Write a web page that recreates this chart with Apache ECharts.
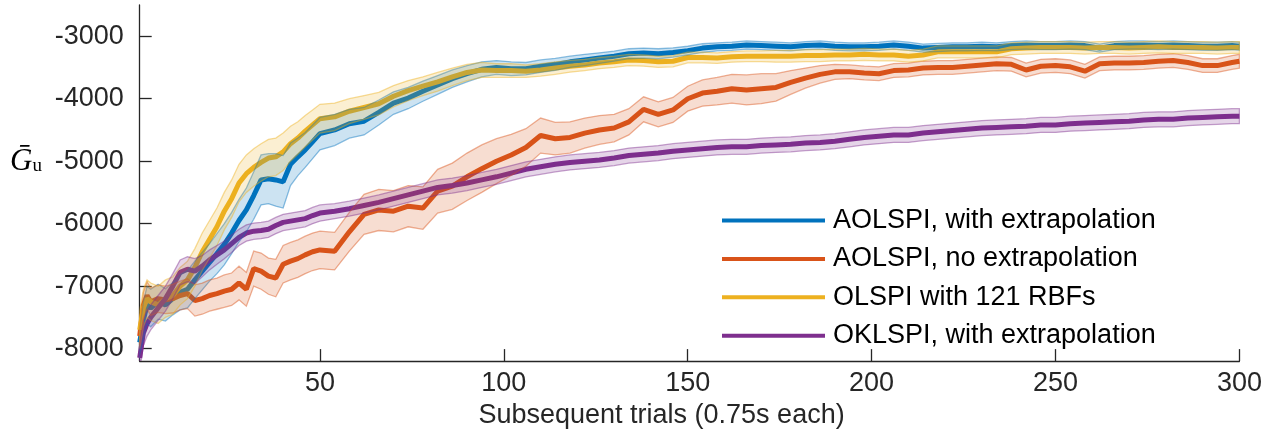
<!DOCTYPE html>
<html>
<head>
<meta charset="utf-8">
<script src="https://cdn.jsdelivr.net/npm/echarts@6/dist/echarts.min.js"></script>
<style>html,body{margin:0;padding:0;background:#fff}#main{width:1271px;height:434px}</style>
</head>
<body>
<div id="main"></div>
<script>
// trial index (x axis)
const trials = [1,2,3,4,6,8,10,12,14,16,18,20,22,24,26,28,30,32,34,36,38,40,42,44,46,48,50,
  54,58,62,66,70,74,78,82,86,90, 94,98,102,106,110,114,118,122,126,130,
  134,138,142,146,150,154,158,162,166,170, 174,178,182,186,190,194,198,202,206,210,
  214,218,222,226,230,234,238,242,246,250, 254,258,262,266,270,274,278,282,286,290, 294,298,300];

// AOLSPI, with extrapolation
const aolspiExt = [-7900,-7550,-7300,-7350,-7250,-7300,-7200,-7100,-7050,-6900,-6760,-6620,-6480,-6330,-6150,-5950,-5780,-5550,-5300,-5280,-5300,-5330,-5050,-4930,-4820,-4690,-4560,
  -4500,-4400,-4360,-4220,-4070,-3990,-3880,-3780,-3680,-3600, -3530,-3500,-3520,-3520,-3480,-3450,-3410,-3380,-3350,-3320,
  -3280,-3270,-3280,-3260,-3230,-3190,-3170,-3160,-3140,-3150, -3160,-3170,-3150,-3140,-3160,-3170,-3170,-3160,-3140,-3160,
  -3190,-3180,-3170,-3170,-3160,-3170,-3150,-3140,-3150,-3150, -3140,-3150,-3190,-3150,-3140,-3140,-3150,-3140,-3150,-3160, -3160,-3150,-3160];
const aolspiExtSd = [200,300,300,300,280,260,260,280,300,300,300,300,320,330,330,340,350,380,400,400,420,420,340,300,280,270,260,
  250,230,220,200,180,170,160,150,140,130, 120,110,110,100,100,95,90,90,85,80,
  80,80,80,75,70,70,65,65,65,65, 65,65,65,65,65,65,65,65,65,65,
  65,65,65,65,65,65,65,65,65,65, 65,65,65,65,65,65,65,65,65,65, 65,65,65];

// AOLSPI, no extrapolation
const aolspiNo = [-7800,-7300,-7150,-7250,-7200,-7220,-7200,-7150,-7120,-7230,-7200,-7150,-7120,-7080,-7050,-6950,-7050,-6720,-6760,-6840,-6870,-6650,-6600,-6560,-6500,-6450,-6420,
  -6440,-6130,-5850,-5780,-5800,-5720,-5750,-5480,-5400,-5250, -5120,-5000,-4900,-4780,-4590,-4640,-4620,-4550,-4500,-4470,
  -4370,-4170,-4250,-4180,-4000,-3910,-3880,-3840,-3860,-3840, -3820,-3740,-3670,-3610,-3570,-3570,-3590,-3600,-3550,-3540,
  -3510,-3500,-3500,-3480,-3460,-3440,-3450,-3540,-3480,-3470, -3490,-3560,-3440,-3430,-3430,-3420,-3400,-3390,-3420,-3470, -3470,-3420,-3400];
const aolspiNoSd = [150,200,220,220,220,220,230,230,240,250,250,250,250,260,260,270,270,280,290,290,300,300,300,300,300,300,300,
  300,310,320,330,330,330,340,350,370,380, 380,360,330,300,280,260,250,240,230,220,
  210,200,200,200,200,210,220,230,240,240, 220,190,160,140,120,110,110,110,110,110,
  110,110,110,110,110,110,110,110,110,110, 110,110,110,110,110,110,110,110,110,110, 110,110,110];

// OLSPI with 121 RBFs
const olspi = [-7700,-7350,-7200,-7250,-7300,-7200,-7150,-7000,-6900,-6700,-6450,-6250,-6050,-5800,-5600,-5350,-5200,-5100,-5020,-4950,-4930,-4850,-4720,-4630,-4520,-4420,-4320,
  -4290,-4200,-4140,-4080,-3960,-3870,-3800,-3730,-3650,-3580, -3540,-3550,-3550,-3560,-3540,-3510,-3480,-3460,-3430,-3410,
  -3380,-3390,-3410,-3400,-3340,-3340,-3350,-3330,-3320,-3320, -3320,-3320,-3310,-3310,-3300,-3300,-3290,-3300,-3300,-3320,
  -3300,-3250,-3250,-3250,-3250,-3250,-3200,-3190,-3180,-3180, -3180,-3190,-3180,-3180,-3190,-3180,-3170,-3180,-3180,-3180, -3190,-3180,-3180];
const olspiSd = [300,300,300,300,300,300,300,300,300,300,300,300,300,300,300,300,300,300,300,300,300,300,280,260,250,240,230,
  220,200,190,180,170,160,150,150,140,130, 120,110,110,100,100,100,95,90,90,90,
  90,90,90,90,85,85,85,85,85,85, 95,95,95,95,95,95,95,95,95,95,
  95,95,95,95,95,95,95,95,95,95, 95,95,95,95,95,95,95,95,95,95, 95,95,95];

// OKLSPI, with extrapolation
const oklspi = [-8150,-7750,-7600,-7500,-7350,-7200,-7000,-6780,-6730,-6760,-6680,-6580,-6500,-6420,-6320,-6220,-6150,-6120,-6110,-6090,-6030,-5980,-5960,-5940,-5920,-5870,-5830,
  -5800,-5760,-5710,-5660,-5600,-5540,-5480,-5420,-5390,-5350, -5300,-5250,-5190,-5130,-5090,-5050,-5020,-5000,-4980,-4950,
  -4910,-4890,-4870,-4840,-4820,-4800,-4780,-4770,-4770,-4750, -4740,-4730,-4710,-4700,-4680,-4650,-4620,-4600,-4580,-4580,
  -4550,-4530,-4510,-4490,-4470,-4460,-4450,-4440,-4420,-4420, -4400,-4390,-4380,-4370,-4360,-4340,-4330,-4330,-4310,-4300, -4290,-4280,-4280];
const oklspiSd = [200,200,200,200,200,200,200,200,200,200,170,160,150,140,140,130,130,130,130,130,130,130,130,130,130,130,130,
  120,120,120,120,120,120,120,120,120,120, 120,120,120,120,120,120,120,120,120,120,
  120,120,120,120,120,120,120,120,120,120, 120,120,120,120,120,120,120,120,120,120,
  120,120,120,120,120,120,120,120,120,120, 120,120,120,120,120,120,120,120,120,120, 120,120,120];

const names = ['AOLSPI, with extrapolation', 'AOLSPI, no extrapolation', 'OLSPI with 121 RBFs', 'OKLSPI, with extrapolation'];
const colors = ['#0072BD', '#D95319', '#EDB120', '#7E2F8E'];
const xTicks = [50, 100, 150, 200, 250, 300];
const yTicks = [-8000, -7000, -6000, -5000, -4000, -3000];

const font = 'Liberation Sans, Arial, sans-serif';
const axisColor = '#262626';

function rgba(hex, a) {
  const n = parseInt(hex.slice(1), 16);
  return 'rgba(' + (n >> 16) + ',' + ((n >> 8) & 255) + ',' + (n & 255) + ',' + a + ')';
}

function lineSeries(name, values, color) {
  return {
    name: name,
    type: 'line',
    z: 2,
    color: color,
    showSymbol: false,
    symbol: 'none',
    animation: false,
    lineStyle: { width: 5, color: color },
    data: trials.map((t, i) => [t, values[i]])
  };
}

// shaded band, one polygon drawn through the axis scales
function bandSeries(values, sd, color) {
  return {
    type: 'custom',
    z: 3,
    silent: true,
    clip: true,
    animation: false,
    data: trials.map((t, i) => [t, values[i] - sd[i], values[i] + sd[i]]),
    encode: { x: 0, y: [1, 2] },
    renderItem: function (params, api) {
      if (params.dataIndex !== 0) return null;
      const upper = trials.map((t, i) => api.coord([t, values[i] + sd[i]]));
      const lower = trials.map((t, i) => api.coord([t, values[i] - sd[i]])).reverse();
      return {
        type: 'polygon',
        shape: { points: upper.concat(lower) },
        style: { fill: rgba(color, 0.2), stroke: rgba(color, 0.45), lineWidth: 1.3 }
      };
    }
  };
}

const chart = echarts.init(document.getElementById('main'));
chart.setOption({
  animation: false,
  grid: { left: 139.7, right: 31.6, top: 5, bottom: 71.3 },
  legend: {
    data: names,
    orient: 'vertical',
    left: 722,
    top: 207,
    padding: 0,
    icon: 'rect',
    itemWidth: 103,
    itemHeight: 4,
    itemGap: 11.4,
    textStyle: { fontSize: 27, lineHeight: 27, color: '#000', fontFamily: font, padding: [0, 0, 0, 3] }
  },
  xAxis: {
    type: 'value',
    min: 1,
    max: 300,
    name: 'Subsequent trials (0.75s each)',
    nameLocation: 'middle',
    nameGap: 36,
    nameTextStyle: { fontSize: 27, color: axisColor, fontFamily: font, padding: [0, 56, 0, 0] },
    axisLine: { show: true, onZero: false, lineStyle: { color: axisColor, width: 1.3 } },
    axisTick: { show: true, inside: true, length: 12, customValues: xTicks, lineStyle: { color: axisColor, width: 1.3 } },
    axisLabel: { customValues: xTicks, fontSize: 27, color: axisColor, fontFamily: font, margin: 9 },
    splitLine: { show: false }
  },
  yAxis: {
    type: 'value',
    min: -8200,
    max: -2500,
    axisLine: { show: true, onZero: false, lineStyle: { color: axisColor, width: 1.3 } },
    axisTick: { show: true, inside: true, length: 12, customValues: yTicks, lineStyle: { color: axisColor, width: 1.3 } },
    axisLabel: { customValues: yTicks, fontSize: 27, color: axisColor, fontFamily: font, margin: 16, formatter: v => String(v) },
    splitLine: { show: false }
  },
  graphic: [{
    type: 'text',
    left: 10,
    top: 146,
    style: {
      text: '{g|G\u0304}{u|u}',
      rich: {
        g: { fontSize: 31, fontStyle: 'italic', fontFamily: 'Liberation Serif, serif', fill: '#000' },
        u: { fontSize: 19, fontFamily: 'Liberation Serif, serif', fill: '#000', padding: [10, 0, 0, 0] }
      }
    }
  }],
  series: [
    lineSeries(names[0], aolspiExt, colors[0]),
    lineSeries(names[1], aolspiNo, colors[1]),
    lineSeries(names[2], olspi, colors[2]),
    lineSeries(names[3], oklspi, colors[3]),
    bandSeries(aolspiExt, aolspiExtSd, colors[0]),
    bandSeries(aolspiNo, aolspiNoSd, colors[1]),
    bandSeries(olspi, olspiSd, colors[2]),
    bandSeries(oklspi, oklspiSd, colors[3])
  ]
});
</script>
</body>
</html>
